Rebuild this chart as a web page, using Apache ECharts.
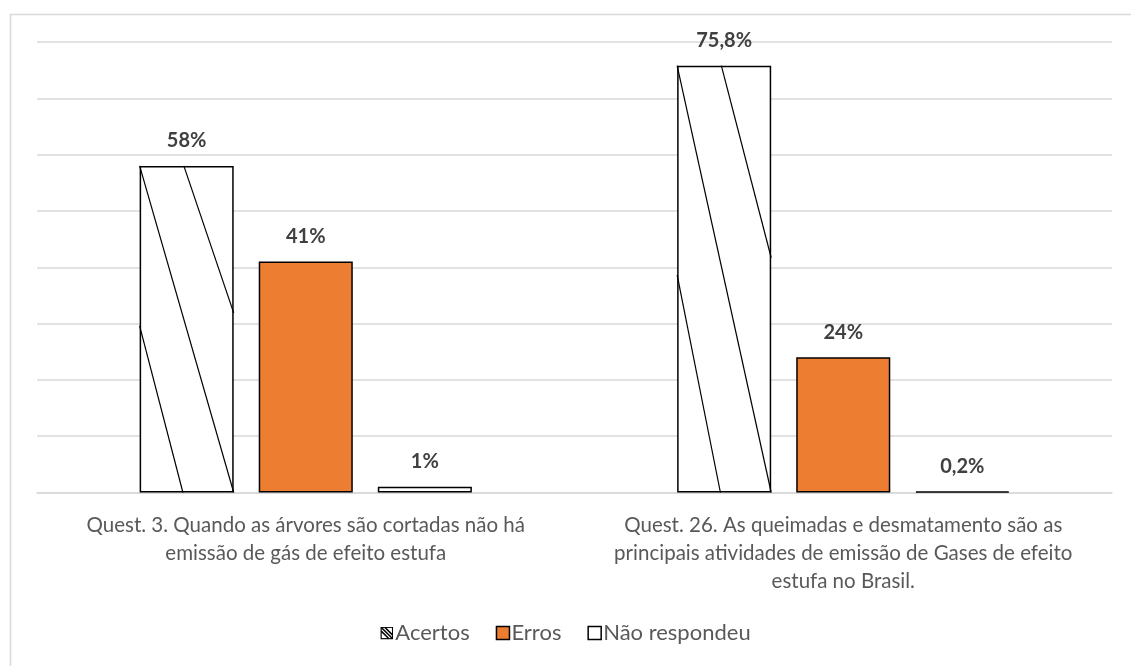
<!DOCTYPE html>
<html>
<head>
<meta charset="utf-8">
<script src="https://cdn.jsdelivr.net/npm/echarts@6/dist/echarts.min.js"></script>
<style>
  html, body { margin: 0; padding: 0; background: #fff; }
  #chart { width: 1131px; height: 666px; }
</style>
</head>
<body>
<div id="chart"></div>
<script>
// Question labels (line breaks as laid out under each group)
const categories = [
  'Quest. 3. Quando as árvores são cortadas não há\nemissão de gás de efeito estufa',
  'Quest. 26. As queimadas e desmatamento são as\nprincipais atividades de emissão de Gases de efeito\nestufa no Brasil.'
];
const seriesNames = ['Acertos', 'Erros', 'Não respondeu'];
const acertos = [58, 75.8];
const erros = [41, 24];
const naoRespondeu = [1, 0.2];

const TEXT_FONT = 'Lato';
const BAR_WIDTH_RATIO = 0.175;   // bar width as share of the category band
const BAR_GAP_RATIO = 0.266;     // gap between bars relative to bar width

const pct = v => String(v).replace('.', ',') + '%';

const dataLabel = {
  show: true,
  position: 'top',
  distance: 15,
  formatter: p => pct(p.value),
  fontFamily: TEXT_FONT,
  fontWeight: 'bold',
  fontSize: 20,
  color: '#404040'
};

// Hatch icon for the legend
const hatchSvg = '<svg xmlns="http://www.w3.org/2000/svg" width="14" height="14" viewBox="0 0 14 14">' +
  '<rect x="0.75" y="0.75" width="12.5" height="12.5" fill="#fff" stroke="#000" stroke-width="1.5"/>' +
  '<path d="M1 1 L13 13 M1 5 L9 13 M5 1 L13 9" stroke="#000" stroke-width="1.6"/>' +
  '</svg>';
const hatchIcon = 'image://data:image/svg+xml;charset=utf-8,' + encodeURIComponent(hatchSvg);

const chart = echarts.init(document.getElementById('chart'), null, { renderer: 'canvas' });

chart.setOption({
  animation: false,
  backgroundColor: '#fff',
  graphic: [{
    type: 'rect',
    left: 8, top: 12,
    shape: { width: 1140, height: 680 },
    style: { fill: 'none', stroke: '#d9d9d9', lineWidth: 1.5 },
    silent: true, z: -1
  }],
  grid: { left: 37, right: 19, top: 42, bottom: 173.5 },
  legend: {
    bottom: 17,
    left: 'center',
    itemWidth: 13,
    itemHeight: 13,
    itemGap: 26,
    textStyle: { fontFamily: TEXT_FONT, fontSize: 22, color: '#595959', padding: [0, 0, 0, -3] },
    data: [
      { name: 'Acertos', icon: hatchIcon },
      { name: 'Erros', icon: 'rect', itemStyle: { color: '#ED7D31', borderColor: '#000', borderWidth: 1.5 } },
      { name: 'Não respondeu', icon: 'rect', itemStyle: { color: '#fff', borderColor: '#000', borderWidth: 1.5 } }
    ]
  },
  xAxis: {
    type: 'category',
    data: categories,
    axisLine: { lineStyle: { color: '#d9d9d9', width: 1.5 } },
    axisTick: { show: false },
    axisLabel: {
      interval: 0,
      margin: 19,
      fontFamily: TEXT_FONT,
      fontSize: 20.5,
      lineHeight: 28,
      color: '#595959',
      align: 'center'
    }
  },
  yAxis: {
    type: 'value',
    min: 0, max: 80, interval: 10,
    axisLabel: { show: false },
    axisLine: { show: false },
    axisTick: { show: false },
    splitLine: { lineStyle: { color: '#d9d9d9', width: 1.5 } }
  },
  series: [
    {
      name: seriesNames[0], type: 'bar', data: acertos,
      barWidth: (BAR_WIDTH_RATIO * 100) + '%', barGap: (BAR_GAP_RATIO * 100) + '%',
      itemStyle: { color: '#fff', borderColor: '#000', borderWidth: 1.5 },
      label: dataLabel
    },
    {
      name: seriesNames[1], type: 'bar', data: erros,
      barWidth: (BAR_WIDTH_RATIO * 100) + '%', barGap: (BAR_GAP_RATIO * 100) + '%',
      itemStyle: { color: '#ED7D31', borderColor: '#000', borderWidth: 1.5 },
      label: dataLabel
    },
    {
      name: seriesNames[2], type: 'bar', data: naoRespondeu,
      barWidth: (BAR_WIDTH_RATIO * 100) + '%', barGap: (BAR_GAP_RATIO * 100) + '%',
      itemStyle: { color: '#fff', borderColor: '#000', borderWidth: 1.5 },
      label: dataLabel
    },
    {
      // diagonal hatching stretched over each "Acertos" bar
      name: 'hatch', type: 'custom', data: acertos.map((v, i) => [i, v]),
      silent: true, z: 5,
      renderItem: (params, api) => {
        const idx = api.value(0);
        const top = api.coord([idx, api.value(1)]);
        const base = api.coord([idx, 0]);
        const band = api.size([1, 0])[0];
        const w = band * BAR_WIDTH_RATIO;
        const g = w * BAR_GAP_RATIO;
        const x0 = top[0] - w - g - w / 2;
        const y0 = top[1];
        const h = base[1] - top[1];
        const line = (ax, ay, bx, by) => ({
          type: 'line',
          shape: { x1: x0 + ax * w, y1: y0 + ay * h, x2: x0 + bx * w, y2: y0 + by * h },
          style: { stroke: '#000', lineWidth: 1.2 }
        });
        return {
          type: 'group',
          children: [
            line(0, 0, 1, 1),
            line(0.47, 0, 1, 0.45),
            line(0, 0.49, 0.46, 1)
          ]
        };
      }
    }
  ]
});
</script>
</body>
</html>
